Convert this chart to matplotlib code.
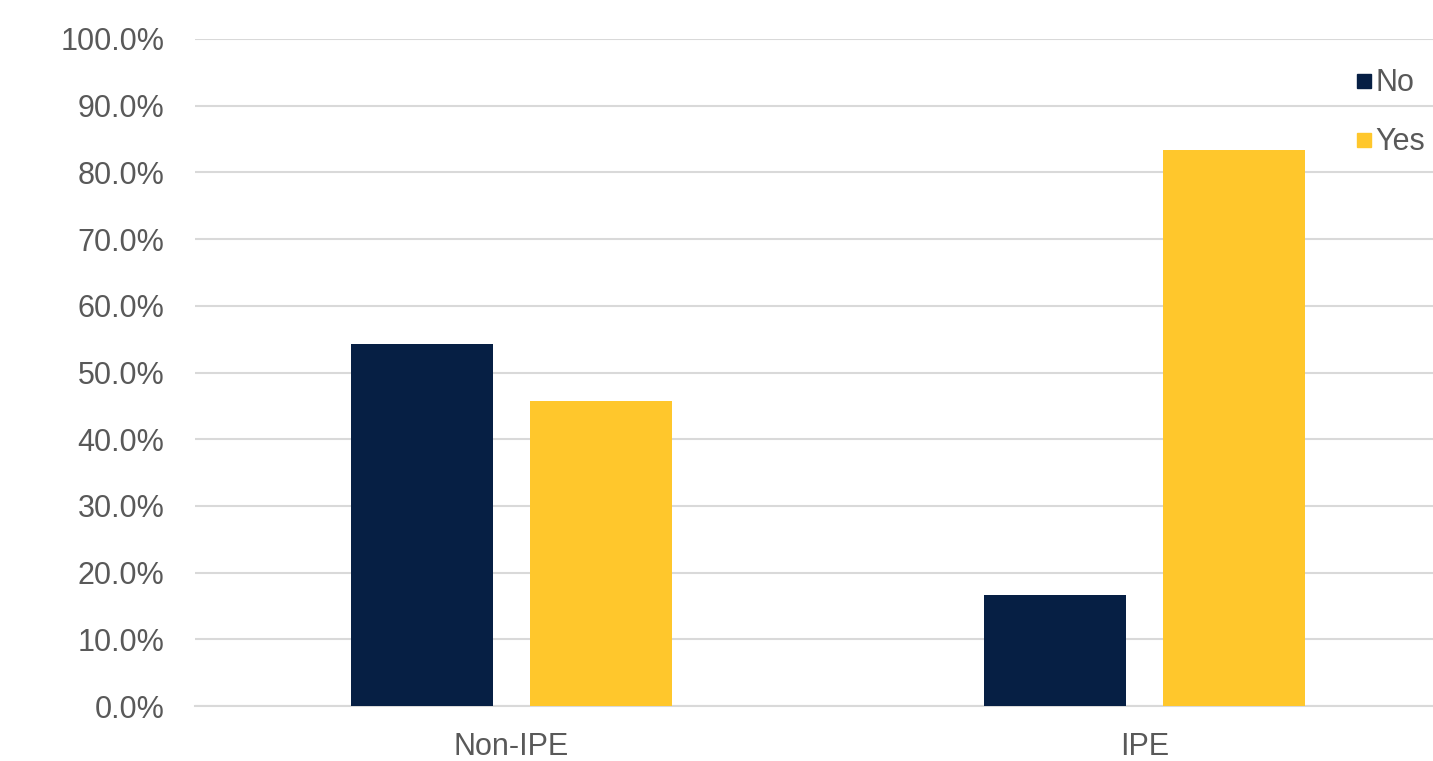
import numpy as np
import matplotlib.pyplot as plt
from matplotlib.lines import Line2D

# chart data
categories = ['Non-IPE', 'IPE']
no_values = [54.2, 16.7]
yes_values = [45.8, 83.3]
series_names = ['No', 'Yes']
colors = ['#061F44', '#FFC72C']

plt.rcParams['font.family'] = ['Liberation Sans', 'DejaVu Sans']

fig = plt.figure(figsize=(14.33, 7.61), dpi=100)
# plot area runs past the right edge, as in the (cropped) reference
ax = fig.add_axes([195 / 1433, 1 - 706 / 761, (1461 - 195) / 1433, (706 - 39) / 761])

x = np.arange(len(categories))
width = 0.224
offset = 0.142
ax.bar(x - offset, no_values, width, color=colors[0], zorder=3)
ax.bar(x + offset, yes_values, width, color=colors[1], zorder=3)

ax.set_xlim(-0.5, 1.5)
ax.set_ylim(0, 100)
ax.set_yticks(np.arange(0, 101, 10))
ax.set_yticklabels([f'{v:.1f}%' for v in np.arange(0, 101, 10)])
ax.set_xticks(x)
ax.set_xticklabels(categories)

ax.grid(axis='y', color='#D9D9D9', linewidth=1.5, zorder=0)
for side in ['top', 'right', 'left']:
    ax.spines[side].set_visible(False)
ax.spines['bottom'].set_color('#D9D9D9')
ax.spines['bottom'].set_linewidth(1.5)
ax.tick_params(axis='both', length=0, labelsize=22, labelcolor='#595959')
ax.tick_params(axis='y', pad=22)
ax.tick_params(axis='x', pad=19)

handles = [Line2D([], [], marker='s', linestyle='', markersize=10, color=c) for c in colors]
fig.legend(handles, series_names, loc='upper left', bbox_to_anchor=(1336 / 1433, 1 - 56 / 761),
           frameon=False, fontsize=22, labelcolor='#595959', handletextpad=-0.1,
           handlelength=1.0, labelspacing=0.95, borderaxespad=0)

fig.savefig('out.png', dpi=100)
